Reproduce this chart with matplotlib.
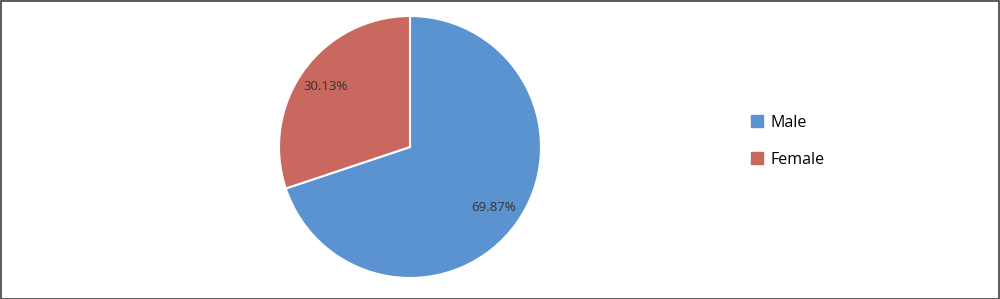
import matplotlib

matplotlib.use("Agg")
import matplotlib.pyplot as plt
from matplotlib.patches import Rectangle
from matplotlib.lines import Line2D

labels = ["Male", "Female"]
shares = [69.87, 30.13]
colors = ["#5B93D0", "#C9685E"]

plt.rcParams["font.family"] = ["Open Sans", "DejaVu Sans"]

W, H = 1000, 299
fig = plt.figure(figsize=(W / 100, H / 100), dpi=100)

# pie centred at (410, 147) px, radius 131 px
cx, cy, r = 410, 147, 131
ax = fig.add_axes([(cx - r) / W, (H - cy - r) / H, 2 * r / W, 2 * r / H])
wedges, _, autotexts = ax.pie(
    shares,
    colors=colors,
    startangle=90,
    counterclock=False,
    autopct=lambda p: f"{p:.2f}%",
    pctdistance=0.79,
    wedgeprops={"edgecolor": "white", "linewidth": 1.5},
    textprops={"fontsize": 9.5, "color": "#333333"},
)
ax.set_xlim(-1, 1)
ax.set_ylim(-1, 1)
ax.set_aspect("auto")

handles = [
    Line2D([], [], marker="s", ls="none", markersize=8, markerfacecolor=c,
           markeredgecolor=c)
    for c in colors
]
fig.legend(handles, labels, loc="center left", bbox_to_anchor=(0.735, 0.528),
           frameon=False, fontsize=11.5, labelspacing=1.3, handletextpad=0.3,
           handlelength=1.0)

fig.add_artist(Rectangle((0.5 / W, 0.5 / H), 1 - 1.5 / W, 1 - 1.5 / H,
                         transform=fig.transFigure, fill=False,
                         edgecolor="#404040", linewidth=1.2))

fig.savefig("out.png", dpi=100)
